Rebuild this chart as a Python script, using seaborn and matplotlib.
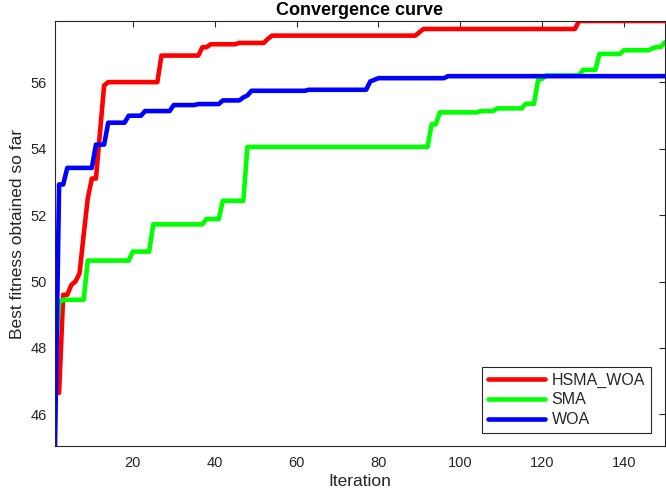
import numpy as np
import pandas as pd
import matplotlib
matplotlib.use('Agg')
import matplotlib.pyplot as plt
import seaborn as sns

# best-so-far curves: iteration where the value changes -> new value (held until next change)
n_iter = 150

hsma_it = [1, 3, 5, 6, 7, 8, 9, 10, 12, 13, 14, 27, 37, 39, 46, 53, 54, 90, 91, 129]
hsma_val = [46.65, 49.6, 49.9, 50.0, 50.25, 51.4, 52.5, 53.1, 54.5, 55.9, 56.0, 56.8,
            57.05, 57.14, 57.18, 57.3, 57.4, 57.5, 57.6, 57.84]

sma_it = [1, 2, 3, 9, 20, 25, 38, 42, 48, 93, 95, 105, 109, 116, 119, 120, 121,
          130, 134, 140, 147, 148, 150]
sma_val = [47.5, 49.37, 49.45, 50.63, 50.9, 51.72, 51.88, 52.43, 54.05, 54.73, 55.09,
           55.13, 55.21, 55.35, 56.06, 56.1, 56.2, 56.37, 56.85, 56.96, 57.02, 57.06, 57.2]

woa_it = [1, 2, 4, 11, 14, 19, 23, 30, 36, 42, 47, 48, 49, 63, 78, 79, 80, 97]
woa_val = [45.05, 52.92, 53.42, 54.12, 54.78, 54.99, 55.13, 55.31, 55.34, 55.45, 55.54,
           55.6, 55.74, 55.77, 56.02, 56.07, 56.12, 56.18]

names = ['HSMA_WOA', 'SMA', 'WOA']
colors = ['#ff0000', '#00ff00', '#0000ff']


def best_so_far(its, vals):
    out = np.empty(n_iter)
    for i, v in zip(its, vals):
        out[i - 1:] = v
    return out


iters = np.arange(1, n_iter + 1)
curves = [best_so_far(hsma_it, hsma_val), best_so_far(sma_it, sma_val),
          best_so_far(woa_it, woa_val)]
df = pd.concat([pd.DataFrame({'Iteration': iters, 'Fitness': c, 'Algorithm': nm})
                for nm, c in zip(names, curves)])

sns.set_theme(style='white')
plt.rcParams['font.family'] = ['Liberation Sans', 'DejaVu Sans']
axcol = '#262626'

fig = plt.figure(figsize=(6.66, 4.94), dpi=100)
ax = fig.add_axes([55 / 666, 48 / 494, 610 / 666, 425 / 494])

sns.lineplot(data=df, x='Iteration', y='Fitness', hue='Algorithm', hue_order=names,
             palette=colors, linewidth=3.3, estimator=None, ax=ax)

ax.set_xlim(1, n_iter)
ymin = min(c.min() for c in curves)
ymax = max(c.max() for c in curves)
ax.set_ylim(ymin, ymax)
ax.set_xticks([20, 40, 60, 80, 100, 120, 140])
ax.set_yticks([46, 48, 50, 52, 54, 56])
ax.tick_params(direction='in', length=4, width=0.8, colors=axcol, labelsize=10.5,
               top=True, right=True, pad=7)
ax.tick_params(axis='y', pad=6)
for s in ax.spines.values():
    s.set_color(axcol)
    s.set_linewidth(0.8)

ax.set_title('Convergence curve', fontsize=13, fontweight='bold', pad=4, color='black')
ax.set_xlabel('Iteration', fontsize=12.5, color=axcol, labelpad=3)
ax.set_ylabel('Best fitness obtained so far', fontsize=12.5, color=axcol, labelpad=4)

handles, labels = ax.get_legend_handles_labels()
leg = ax.legend(handles, labels, loc='lower right', bbox_to_anchor=(0.9766, 0.031),
                borderaxespad=0, fontsize=11.5, handlelength=3.6, handletextpad=0.4,
                labelspacing=0.3, fancybox=False, framealpha=1, edgecolor=axcol,
                borderpad=0.35)
leg.get_frame().set_linewidth(0.8)
for line in leg.get_lines():
    line.set_linewidth(3.3)

fig.savefig('out.png', dpi=100)
